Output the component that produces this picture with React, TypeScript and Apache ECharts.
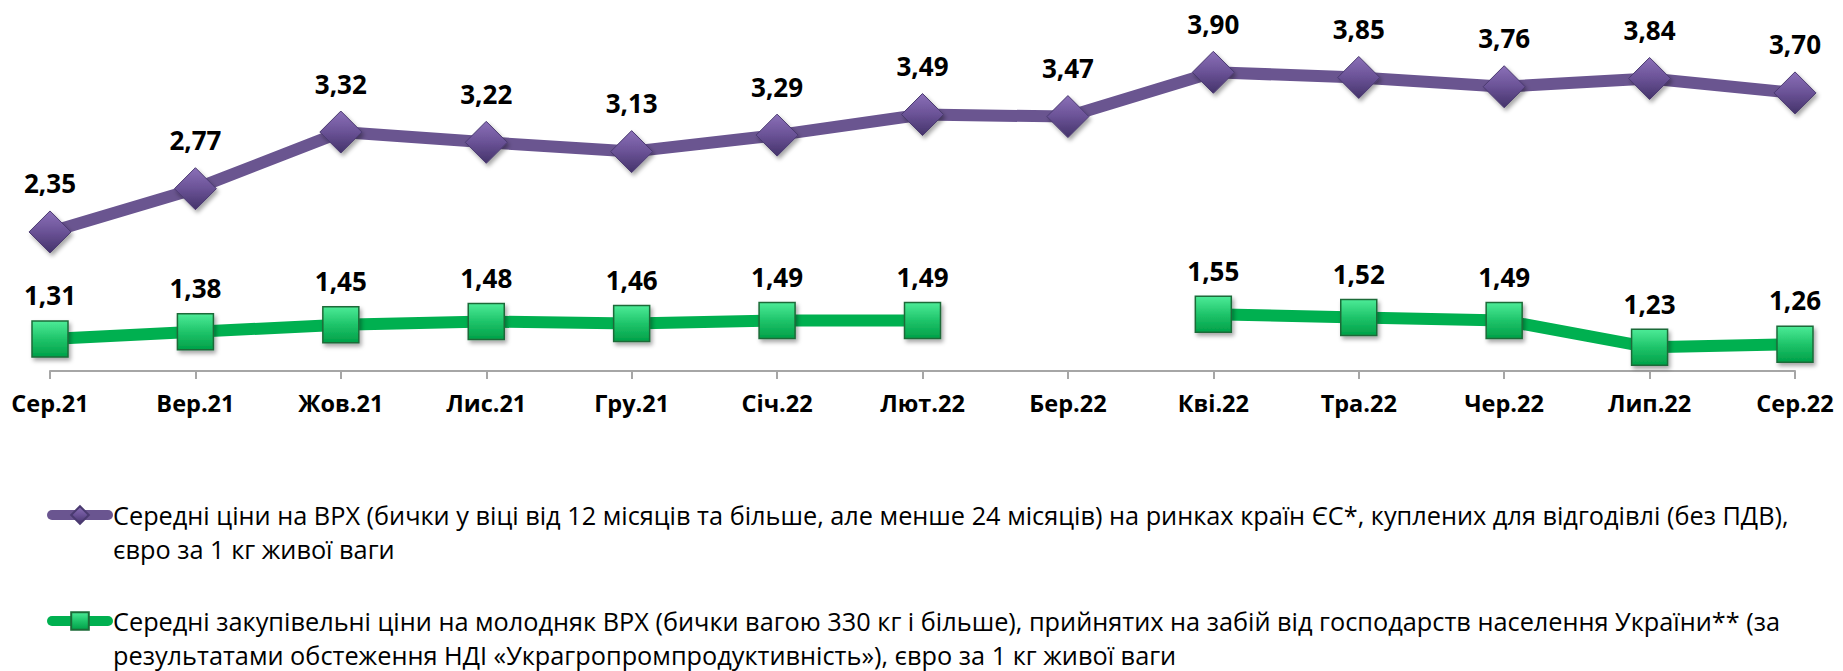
import React, { useEffect, useRef } from "react";
import * as echarts from "echarts";

const categories = ["Сер.21", "Вер.21", "Жов.21", "Лис.21", "Гру.21", "Січ.22", "Лют.22", "Бер.22", "Кві.22", "Тра.22", "Чер.22", "Лип.22", "Сер.22"];
const euPrices = [2.35, 2.77, 3.32, 3.22, 3.13, 3.29, 3.49, 3.47, 3.9, 3.85, 3.76, 3.84, 3.7];
const uaPrices: (number | string)[] = [1.31, 1.38, 1.45, 1.48, 1.46, 1.49, 1.49, "-", 1.55, 1.52, 1.49, 1.23, 1.26];
const euName = "Середні ціни на ВРХ (бички у віці від 12 місяців та більше, але менше 24 місяців) на ринках країн ЄС*, куплених для відгодівлі (без ПДВ),\nєвро за 1 кг живої ваги";
const uaName = "Середні закупівельні ціни на молодняк ВРХ (бички вагою 330 кг і більше), прийнятих на забій від господарств населення України** (за\nрезультатами обстеження НДІ «Украгропромпродуктивність»), євро за 1 кг живої ваги";

const FONT = "'Open Sans', sans-serif";

export default function App() {
  const ref = useRef<HTMLDivElement>(null);
  useEffect(() => {
    document.body.style.margin = "0";
    const chart = echarts.init(ref.current!, undefined, { renderer: "svg" });
    const fmt = (p: any) => Number(p.value).toFixed(2).replace(".", ",");
    const legendBase = {
      orient: "horizontal",
      left: 42,
      itemWidth: 56,
      itemHeight: 22,
      lineStyle: { width: 10, cap: "round" },
      formatter: (name: string) => "\n" + name,
      textStyle: { fontSize: 25.3, fontFamily: FONT, color: "#000", lineHeight: 34 },
    };
    chart.setOption({
      animation: false,
      grid: { left: 50, right: 48, top: 62, bottom: 300 },
      xAxis: {
        type: "category",
        data: categories,
        boundaryGap: false,
        axisLine: { lineStyle: { color: "#A6A6A6", width: 2 } },
        axisTick: { show: true, length: 8, lineStyle: { color: "#A6A6A6", width: 2 } },
        axisLabel: { color: "#000", fontWeight: "bold", fontSize: 23.5, fontFamily: FONT, margin: 20 },
      },
      yAxis: { type: "value", min: 1, max: 4, show: false, splitLine: { show: false } },
      legend: [
        { ...legendBase, top: 459, data: [euName] },
        { ...legendBase, top: 565, data: [uaName] },
      ],
      series: [
        {
          name: euName,
          type: "line",
          data: euPrices,
          symbol: "diamond",
          symbolSize: 42,
          lineStyle: { color: "#6A5590", width: 12 },
          itemStyle: {
            color: new echarts.graphic.LinearGradient(0, 0, 0, 1, [
              { offset: 0, color: "#8B70B8" },
              { offset: 0.5, color: "#6A5296" },
              { offset: 1, color: "#44336A" },
            ]),
            borderColor: "#4A3A70",
            borderWidth: 1,
            shadowColor: "rgba(0,0,0,0.35)",
            shadowBlur: 4,
            shadowOffsetX: 2,
            shadowOffsetY: 3,
          },
          label: { show: true, position: "top", distance: 14, formatter: fmt, fontSize: 26, fontWeight: "bold", color: "#000", fontFamily: FONT },
        },
        {
          name: uaName,
          type: "line",
          data: uaPrices,
          connectNulls: false,
          symbol: "rect",
          symbolSize: 36,
          lineStyle: { color: "#00B050", width: 12 },
          itemStyle: {
            color: new echarts.graphic.LinearGradient(0, 0, 0, 1, [
              { offset: 0, color: "#4CEB97" },
              { offset: 0.5, color: "#1FC46A" },
              { offset: 1, color: "#00A048" },
            ]),
            borderColor: "#1C6B38",
            borderWidth: 1.5,
            shadowColor: "rgba(0,0,0,0.35)",
            shadowBlur: 4,
            shadowOffsetX: 2,
            shadowOffsetY: 3,
          },
          label: { show: true, position: "top", distance: 12, formatter: fmt, fontSize: 26, fontWeight: "bold", color: "#000", fontFamily: FONT },
        },
      ],
    });
    return () => chart.dispose();
  }, []);
  return <div ref={ref} style={{ width: 1843, height: 671 }} />;
}
